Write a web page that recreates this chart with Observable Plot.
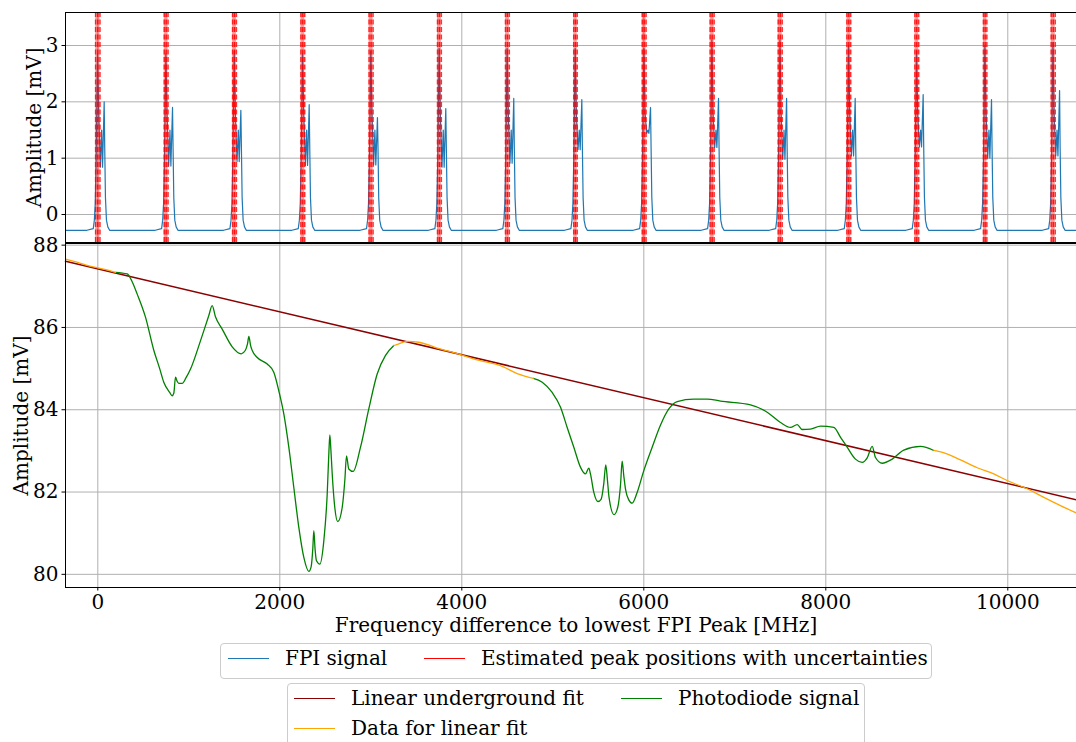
<!DOCTYPE html>
<html><head><meta charset="utf-8">
<script src="https://cdn.jsdelivr.net/npm/d3@7"></script>
<script src="https://cdn.jsdelivr.net/npm/@observablehq/plot@0.6"></script>
<style>
body{margin:0;background:#fff;font-family:"DejaVu Serif",serif;}
#wrap{position:relative;width:1076px;height:742px;overflow:hidden;background:#fff;}
#top{position:absolute;left:0;top:0;}
#bottom{position:absolute;left:0;top:243px;}
.box{position:absolute;border:1px solid #cccccc;border-radius:4px;background:rgba(255,255,255,0.8);box-sizing:border-box;}
.ln{position:absolute;height:0;border-top-width:1.5px;border-top-style:solid;}
.tx{position:absolute;font-size:20px;line-height:22px;white-space:nowrap;color:#000;}
</style></head>
<body><div id="wrap"><div id="top"></div><div id="bottom"></div><div id="legends"></div></div>
<script>
// ---------- axes ----------
const xTicks = [0, 2000, 4000, 6000, 8000, 10000];
const yTicksTop = [0, 1, 2, 3];
const yTicksBottom = [80, 82, 84, 86, 88];
const xDomain = [-355, 10755];
const yDomainTop = [-0.497, 3.586];
const yDomainBottom = [79.68, 88.04];
const xLabel = "Frequency difference to lowest FPI Peak [MHz]";
const yLabel = "Amplitude [mV]";

// ---------- FPI signal (top) ----------
const fpiPeakPos = [0, 751, 1502, 2253, 3003, 3754, 4501, 5249, 6004, 6751, 7499, 8253, 9000, 9751, 10499];
const fpiUncert  = [24, 21, 21, 21, 22, 21, 21, 19, 21, 22, 22, 21, 21, 19, 22];
const fpiMain    = [2.85, 2.85, 2.9, 2.85, 2.9, 2.95, 2.95, 2.95, 2.95, 3.1, 3.1, 3.0, 2.9, 3.0, 3.05];
const fpiDip     = [0.84, 0.86, 0.94, 0.87, 0.88, 0.84, 0.91, 1.15, 1.44, 1.19, 0.98, 1.04, 1.2, 1.0, 1.04];
const fpiSecond  = [2.0, 1.9, 1.85, 1.95, 1.72, 1.88, 2.06, 2.04, 1.9, 2.06, 2.06, 2.06, 2.13, 2.04, 2.2];
const fpiBase = -0.28;
// peak profile: [offset MHz, level]
const fpiShape = [[-120,"base"],[-50,-0.25],[-38,-0.1],[-28,0.2],[-18,1.0],[-10,2.0],[-3,"main"],[10,1.8],[28,"dip"],[42,1.5],[52,"dip"],[70,"second"],[76,1.2],[84,0.3],[95,-0.1],[110,-0.22],[130,"base"]];

// ---------- photodiode signal (bottom) ----------
const pdF = [-355,-250,-150,-50,0,100,195,323,380,433,524,616,680,725,790,817,835,854,870,890,927,970,1019,1129,1220,1257,1293,1367,1477,1576,1620,1645,1660,1680,1697,1752,1862,1934,1989,2044,2099,2154,2209,2264,2319,2344,2362,2374,2388,2403,2440,2484,2521,2540,2550,2562,2576,2604,2637,2686,2715,2733,2758,2806,2887,2978,3070,3162,3253,3308,3400,3528,3730,3986,4169,4425,4608,4785,4884,4993,5085,5158,5231,5305,5359,5396,5414,5451,5495,5532,5560,5582,5600,5618,5673,5714,5745,5762,5780,5799,5835,5872,5927,6000,6092,6184,6275,6367,6549,6697,6843,7173,7356,7502,7612,7686,7741,7832,7942,8088,8162,8235,8326,8400,8455,8510,8546,8620,8730,8857,9041,9187,9316,9480,9664,9846,9993,10213,10396,10579,10755];
const pdV = [87.66,87.60,87.53,87.47,87.45,87.40,87.34,87.30,87.10,86.81,86.25,85.44,85.00,84.67,84.42,84.34,84.40,84.79,84.70,84.64,84.64,84.78,84.99,85.68,86.29,86.53,86.26,85.96,85.53,85.36,85.44,85.60,85.78,85.55,85.44,85.27,85.11,84.91,84.46,83.90,83.09,82.11,81.14,80.41,80.07,80.18,80.60,81.06,80.60,80.33,80.25,80.82,81.95,83.0,83.39,83.0,82.44,81.63,81.28,81.63,82.3,82.88,82.56,82.50,83.09,84.02,84.87,85.32,85.56,85.60,85.66,85.64,85.50,85.34,85.21,85.07,84.88,84.76,84.67,84.42,84.06,83.57,83.09,82.60,82.44,82.58,82.44,81.99,81.77,81.83,82.2,82.66,82.3,81.87,81.45,81.63,82.2,82.75,82.4,82.07,81.81,81.73,81.99,82.52,83.09,83.63,84.02,84.20,84.26,84.26,84.21,84.12,83.94,83.69,83.57,83.64,83.52,83.53,83.60,83.57,83.33,83.09,82.80,82.72,82.83,83.11,82.84,82.70,82.80,83.02,83.11,83.01,82.94,82.78,82.59,82.44,82.28,82.08,81.87,81.67,81.49];
const fitRanges = [[-355, 195], [3308, 4785], [9316, 10755]];
// linear underground fit (end points)
const fitF = [-355, 10755];
const fitV = [87.61, 81.81];

// ---------- styles ----------
const cFPI = "#1f77b4", cPeak = "red", cFit = "#8b0000", cPD = "green", cData = "orange", cGrid = "#b0b0b0";
const font = {fontFamily: "DejaVu Serif", fontSize: "20px", color: "black", background: "white", overflow: "visible"};

// build tables
const fpiData = [{f: xDomain[0], v: fpiBase}];
fpiPeakPos.forEach((p, i) => {
  const lv = {base: fpiBase, main: fpiMain[i], dip: fpiDip[i], second: fpiSecond[i]};
  fpiShape.forEach(([o, l]) => fpiData.push({f: p + o, v: typeof l === "string" ? lv[l] : l}));
});
fpiData.push({f: xDomain[1], v: fpiBase});
const peaks = fpiPeakPos.map((f, i) => ({f, u: fpiUncert[i]}));

const pts = pdF.map((f, i) => ({f, v: pdV[i], fit: fitRanges.some(([a, b]) => f >= a && f <= b)}));
const segRows = [];
let seg = 0, prev = null;
pts.forEach(p => {
  if (prev && prev.fit !== p.fit) { seg++; segRows.push({...prev, seg, fit: p.fit}); }
  segRows.push({...p, seg});
  prev = p;
});
const fitLine = fitF.map((f, i) => ({f, v: fitV[i]}));

const topPlot = Plot.plot({
  width: 1076, height: 243, marginLeft: 65, marginRight: 0, marginTop: 12, marginBottom: 1,
  style: font,
  x: {domain: xDomain, axis: null},
  y: {domain: yDomainTop, axis: null},
  marks: [
    Plot.gridX(xTicks, {stroke: cGrid, strokeOpacity: 1, strokeWidth: 1}),
    Plot.gridY(yTicksTop, {stroke: cGrid, strokeOpacity: 1, strokeWidth: 1}),
    Plot.line(fpiData, {x: "f", y: "v", stroke: cFPI, strokeWidth: 1.2}),
    Plot.rect(peaks, {x1: d => d.f - d.u, x2: d => d.f + d.u, y1: yDomainTop[0], y2: yDomainTop[1], fill: cPeak, fillOpacity: 0.4}),
    Plot.ruleX(peaks, {x: d => d.f - d.u, stroke: cPeak, strokeWidth: 1.5, strokeOpacity: 0.8, strokeDasharray: "5,2.5"}),
    Plot.ruleX(peaks, {x: d => d.f + d.u, stroke: cPeak, strokeWidth: 1.5, strokeOpacity: 0.8, strokeDasharray: "5,2.5"}),
    Plot.ruleX(peaks, {x: "f", stroke: cPeak, strokeWidth: 1.5, strokeOpacity: 0.9, strokeDasharray: "5,2.5"}),
    Plot.ruleY([yDomainTop[1]], {stroke: "black", strokeWidth: 1}),
    Plot.ruleY([yDomainTop[0]], {stroke: "black", strokeWidth: 1}),
    Plot.ruleX([xDomain[0]], {stroke: "black", strokeWidth: 1}),
    Plot.axisY(yTicksTop, {tickSize: 3.5, tickPadding: 3.5, label: null, tickFormat: "d"}),
    Plot.text([yLabel], {frameAnchor: "left", textAnchor: "middle", dx: -31, rotate: -90, text: d => d, fontSize: 20})
  ]
});
document.getElementById("top").appendChild(topPlot);

const bottomPlot = Plot.plot({
  width: 1076, height: 400, marginLeft: 65, marginRight: 0, marginTop: 0, marginBottom: 56,
  style: font,
  x: {domain: xDomain, axis: null},
  y: {domain: yDomainBottom, axis: null},
  marks: [
    Plot.gridX(xTicks, {stroke: cGrid, strokeOpacity: 1, strokeWidth: 1}),
    Plot.gridY(yTicksBottom, {stroke: cGrid, strokeOpacity: 1, strokeWidth: 1}),
    Plot.line(fitLine, {x: "f", y: "v", stroke: cFit, strokeWidth: 1.5}),
    Plot.line(segRows.filter(d => !d.fit), {x: "f", y: "v", z: "seg", stroke: cPD, strokeWidth: 1.3, curve: "monotone-x"}),
    Plot.line(segRows.filter(d => d.fit), {x: "f", y: "v", z: "seg", stroke: cData, strokeWidth: 1.3, curve: "monotone-x"}),
    Plot.ruleY([yDomainBottom[1]], {stroke: "black", strokeWidth: 1}),
    Plot.ruleY([yDomainBottom[0]], {stroke: "black", strokeWidth: 1}),
    Plot.ruleX([xDomain[0]], {stroke: "black", strokeWidth: 1}),
    Plot.axisY(yTicksBottom, {tickSize: 3.5, tickPadding: 3.5, label: null, tickFormat: "d"}),
    Plot.axisX(xTicks, {tickSize: 3.5, tickPadding: 4, label: null, tickFormat: "d"}),
    Plot.text([yLabel], {frameAnchor: "left", textAnchor: "middle", dx: -44, rotate: -90, text: d => d, fontSize: 20}),
    Plot.text([xLabel], {frameAnchor: "bottom", textAnchor: "middle", dx: 5, dy: 38, text: d => d, fontSize: 20, lineAnchor: "middle"})
  ]
});
document.getElementById("bottom").appendChild(bottomPlot);

// ---------- legends ----------
const legendBoxes = [
  {left: 220, top: 643, width: 712, height: 36},
  {left: 287, top: 683, width: 578, height: 70}
];
const legendItems = [
  {label: "FPI signal", color: cFPI, x: 228, y: 659},
  {label: "Estimated peak positions with uncertainties", color: cPeak, x: 424, y: 659},
  {label: "Linear underground fit", color: cFit, x: 294, y: 699},
  {label: "Photodiode signal", color: cPD, x: 621, y: 699},
  {label: "Data for linear fit", color: cData, x: 294, y: 729}
];
const lg = document.getElementById("legends");
legendBoxes.forEach(b => {
  const d = document.createElement("div"); d.className = "box";
  Object.assign(d.style, {left: b.left + "px", top: b.top + "px", width: b.width + "px", height: b.height + "px"});
  lg.appendChild(d);
});
legendItems.forEach(it => {
  const l = document.createElement("div"); l.className = "ln";
  Object.assign(l.style, {left: it.x + "px", top: (it.y - 0.75) + "px", width: "41px", borderTopColor: it.color});
  lg.appendChild(l);
  const t = document.createElement("div"); t.className = "tx"; t.textContent = it.label;
  Object.assign(t.style, {left: (it.x + 57) + "px", top: (it.y - 12) + "px"});
  lg.appendChild(t);
});
</script></body></html>
